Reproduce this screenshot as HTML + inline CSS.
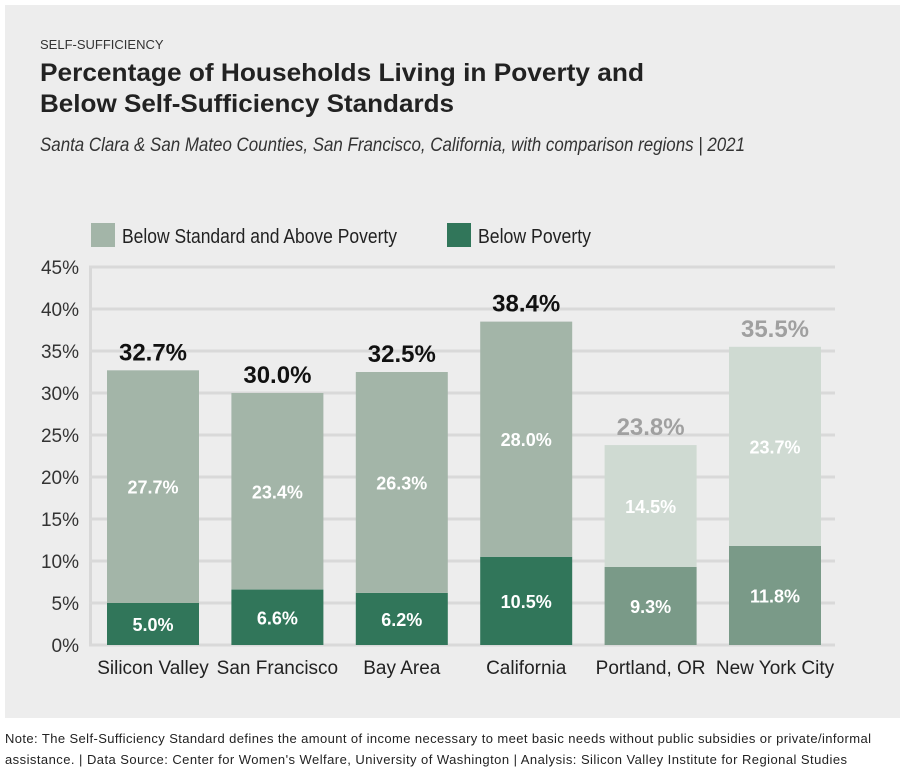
<!DOCTYPE html>
<html><head><meta charset="utf-8"><style>
body{margin:0;background:#fff;width:905px;height:775px;overflow:hidden;font-family:"Liberation Sans",sans-serif}
svg text{font-family:"Liberation Sans",sans-serif}
</style></head><body>
<svg id="c" width="905" height="775">
<rect x="5" y="5" width="895" height="713" fill="#ededed"/>
<text x="40" y="49" font-size="13" fill="#333">SELF-SUFFICIENCY</text>
<text x="40" y="81" font-size="25" font-weight="bold" fill="#222" textLength="604" lengthAdjust="spacingAndGlyphs">Percentage of Households Living in Poverty and</text>
<text x="40" y="112" font-size="25" font-weight="bold" fill="#222" textLength="414" lengthAdjust="spacingAndGlyphs">Below Self-Sufficiency Standards</text>
<text x="40" y="151" font-size="19" font-style="italic" fill="#333" textLength="705" lengthAdjust="spacingAndGlyphs">Santa Clara &amp; San Mateo Counties, San Francisco, California, with comparison regions | 2021</text>
<rect x="91" y="223" width="24" height="24" fill="#a3b5a8"/>
<text x="122" y="243" font-size="20" fill="#222" textLength="275" lengthAdjust="spacingAndGlyphs">Below Standard and Above Poverty</text>
<rect x="447" y="223" width="24" height="24" fill="#31765a"/>
<text x="478" y="243" font-size="20" fill="#222" textLength="113" lengthAdjust="spacingAndGlyphs">Below Poverty</text>
<g id="grid"></g><g id="bars"></g>
<text x="5" y="743" font-size="13" fill="#222" textLength="866">Note: The Self-Sufficiency Standard defines the amount of income necessary to meet basic needs without public subsidies or private/informal</text>
<text x="5" y="764" font-size="13" fill="#222" textLength="842">assistance. | Data Source: Center for Women's Welfare, University of Washington | Analysis: Silicon Valley Institute for Regional Studies</text>
</svg>
<script>
const categories=["Silicon Valley","San Francisco","Bay Area","California","Portland, OR","New York City"];
const belowPoverty=[5.0,6.6,6.2,10.5,9.3,11.8];
const abovePoverty=[27.7,23.4,26.3,28.0,14.5,23.7];
const totals=[32.7,30.0,32.5,38.4,23.8,35.5];
const ticks=[0,5,10,15,20,25,30,35,40,45];
const NS="http://www.w3.org/2000/svg";
const y0=645,yTop=267,yMax=45;
const y=v=>y0-(v/yMax)*(y0-yTop);
const x=i=>153+i*124.4;
const bw=92;
function mk(tag,attrs,parent,txt){const e=document.createElementNS(NS,tag);for(const k in attrs)e.setAttribute(k,attrs[k]);if(txt!==undefined)e.textContent=txt;parent.appendChild(e);return e;}
const grid=document.getElementById('grid'),bars=document.getElementById('bars');
mk('rect',{x:89,y:yTop-1,width:3,height:y0-yTop+2,fill:'#d8d8d8'},grid);
ticks.forEach(t=>{
  const l=mk('rect',{x:89,y:y(t)-1.5,width:746,height:3,fill:'#d9d9d9'},grid);
  
  
  const tx=mk('text',{x:79,y:y(t)+7,'font-size':19,fill:'#333','text-anchor':'end'},grid,t+'%');
  
  
});
categories.forEach((c,i)=>{
  const comp=i>=4;
  const cx=x(i);
  const bot=mk('rect',{x:cx-bw/2,y:y(belowPoverty[i]),width:bw,height:y0-y(belowPoverty[i]),fill:comp?'#7a9a88':'#31765a'},bars);
  
  
  const s=belowPoverty[i]+abovePoverty[i];
  const top=mk('rect',{x:cx-bw/2,y:y(s),width:bw,height:y(belowPoverty[i])-y(s),fill:comp?'#cfdad2':'#a3b5a8'},bars);
  
  
  const lb=mk('text',{x:cx,y:(y(belowPoverty[i])+y0)/2+7,'font-size':18,'font-weight':'bold',fill:'#fff','text-anchor':'middle'},bars,belowPoverty[i].toFixed(1)+'%');
  
  
  const la=mk('text',{x:cx,y:(y(s)+y(belowPoverty[i]))/2+7,'font-size':18,'font-weight':'bold',fill:'#fff','text-anchor':'middle'},bars,abovePoverty[i].toFixed(1)+'%');
  
  
  const lt=mk('text',{x:cx,y:y(s)-10,'font-size':24,'font-weight':'bold',fill:comp?'#a0a0a0':'#111','text-anchor':'middle'},bars,totals[i].toFixed(1)+'%');
  
  
  const cl=mk('text',{x:cx,y:674,'font-size':19,fill:'#222','text-anchor':'middle'},bars,c);
  
  
});
</script>
</body></html>
